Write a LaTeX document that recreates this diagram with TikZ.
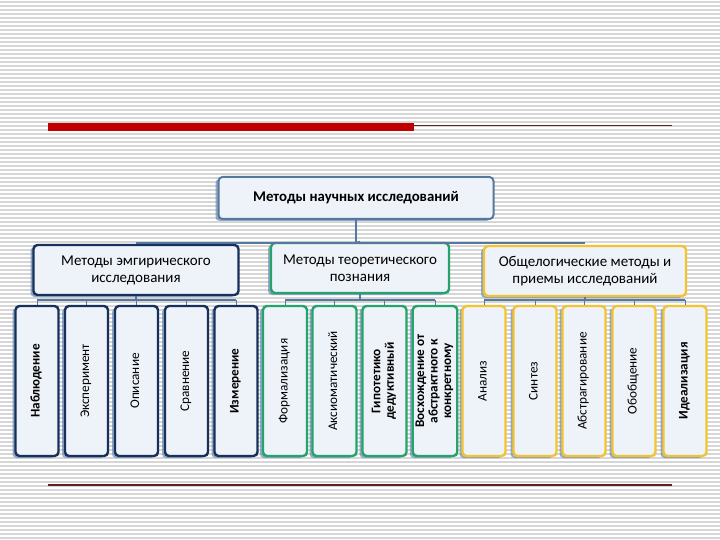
\documentclass[tikz,border=0pt]{standalone}
\usepackage{fontspec}
\setmainfont{Carlito}
\usetikzlibrary{shadows}
\definecolor{navy}{HTML}{17315C}
\definecolor{grn}{HTML}{25A36B}
\definecolor{gold}{HTML}{F4C430}
\definecolor{steel}{HTML}{55799E}
\definecolor{boxfill}{HTML}{EEF2F9}
\definecolor{redbar}{HTML}{C00000}
\definecolor{darkline}{HTML}{5E2222}
\definecolor{shadowc}{HTML}{6A8BB3}
\definecolor{stripe}{HTML}{D6D6D6}
\tikzset{
  basebox/.style={rounded corners=4pt, fill=boxfill, line width=2.4pt, inner sep=2pt,
    drop shadow={shadow xshift=-3pt, shadow yshift=-2pt, fill=shadowc, opacity=0.7}},
  topbox/.style={basebox, draw=steel, line width=2pt, minimum width=275pt, minimum height=42pt,
    font=\fontsize{14.8}{17}\selectfont\bfseries},
  lvtwo/.style={basebox, minimum height=50pt, align=center, font=\fontsize{15}{17}\selectfont},
  leaf/.style={basebox, minimum height=150pt, font=\fontsize{13.2}{13.5}\selectfont},
  bar/.style={draw=steel, line width=2pt},
}
\newcommand{\vtext}[1]{\rotatebox{90}{\begin{tabular}{@{}c@{}}#1\end{tabular}}}
\begin{document}
\begin{tikzpicture}[x=1pt,y=-1pt]
\useasboundingbox (0,0) rectangle (720,540);
\fill[white] (0,0) rectangle (720,540);
\foreach \yy in {2,6,...,538} {\draw[stripe, line width=1.1pt] (0,\yy) -- (720,\yy);}
% decorative lines
\fill[redbar] (48,123) rectangle (414,131);
\draw[darkline, line width=1pt] (414,125.5) -- (672,125.5);
\draw[darkline, line width=1.2pt] (48,485) -- (672,485);

% top
\node[topbox] (top) at (356,198) {Методы научных исследований};

% level 2
\node[lvtwo, draw=navy, minimum width=205pt] (emp) at (136,270) {Методы эмгирического\\исследования};
\node[lvtwo, draw=grn, minimum width=178pt] (theo) at (360,268) {Методы теоретического\\познания};
\node[lvtwo, draw=gold, minimum width=202pt] (gen) at (585,271) {Общелогические методы и\\приемы исследований};

% connectors top -> level 2
\coordinate (hub) at (356,243);
\coordinate (hl) at (136,243);
\coordinate (hr) at (585,243);

% level 3
\foreach \nm/\xx/\txt in {e1/37/\textbf{Наблюдение}, e2/86.5/Эксперимент, e3/136.5/Описание, e4/186.5/Сравнение, e5/236/\textbf{Измерение}}
  {\node[leaf, draw=navy, minimum width=43pt] (\nm) at (\xx,381) {\vtext{\txt}};}
\foreach \nm/\xx/\txt in {t1/285/Формализация, t2/334.5/Аксиоматический, t3/384.5/\textbf{Гипотетико}\\\textbf{дедуктивный}, t4/435/\textbf{Восхождение от}\\\textbf{абстрактного к}\\\textbf{конкретному}}
  {\node[leaf, draw=grn, minimum width=44pt] (\nm) at (\xx,381) {\vtext{\txt}};}
\foreach \nm/\xx/\txt in {g1/484/Анализ, g2/535/Синтез, g3/584/Абстрагирование, g4/634/Обобщение, g5/685/\textbf{Идеализация}}
  {\node[leaf, draw=gold, minimum width=43pt] (\nm) at (\xx,381) {\vtext{\txt}};}

% connectors
\draw[bar] (top.south) -- (hub);
\draw[bar] (hl) -- (hr);
\draw[bar] (hub) -- (theo.north);

\coordinate (eb) at (emp.south |- 0,300);
\coordinate (tb) at (theo.south |- 0,300);
\coordinate (gb) at (gen.south |- 0,300);
\draw[bar] (emp.south) -- (eb);
\draw[bar] (theo.south) -- (tb);
\draw[bar] (gen.south) -- (gb);
\draw[bar] (e1.north |- eb) -- (e5.north |- eb);
\draw[bar] (t1.north |- tb) -- (t4.north |- tb);
\draw[bar] (g1.north |- gb) -- (g5.north |- gb);
\foreach \c in {e1,e2,e3,e4,e5} {\draw[bar, line width=1pt] (\c.north |- eb) -- (\c.north);}
\foreach \c in {t1,t2,t3,t4} {\draw[bar, line width=1pt] (\c.north |- tb) -- (\c.north);}
\foreach \c in {g1,g2,g3,g4,g5} {\draw[bar, line width=1pt] (\c.north |- gb) -- (\c.north);}
\end{tikzpicture}
\end{document}
